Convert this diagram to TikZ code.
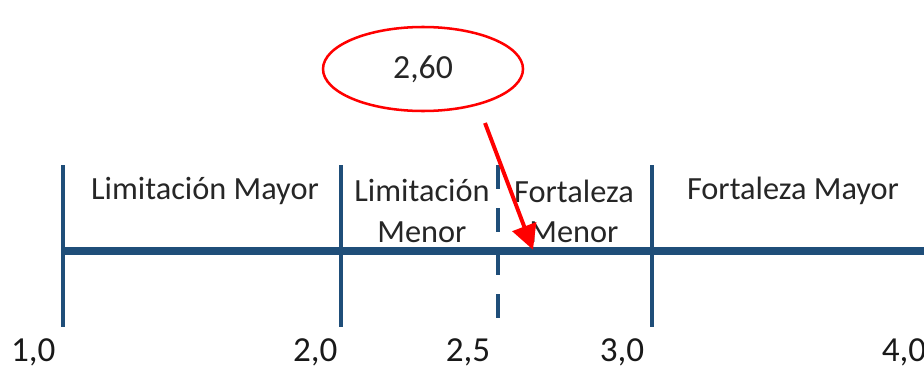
\documentclass[tikz,border=0pt]{standalone}
\usepackage{fontspec}
\setmainfont{Carlito}
\usepackage{tikz}
\usetikzlibrary{positioning, arrows.meta, shapes.geometric}

\definecolor{ejeazul}{RGB}{31,78,121}

\begin{document}
\begin{tikzpicture}[
  eje/.style={ejeazul, line width=5pt},
  marca/.style={ejeazul, line width=3.5pt},
  zona/.style={align=center, font=\fontsize{23}{28.5}\selectfont, text=black!85},
  num/.style={anchor=base, font=\fontsize{25}{28}\selectfont, text=black!90},
  flecha/.style={red, line width=2.8pt, -{Triangle[length=0.62cm, width=0.62cm]}},
]
  \useasboundingbox (0,0) rectangle (23.1,9.225);

  % Axis and ticks
  \coordinate (ejeA) at (1.575,2.95);
  \coordinate (ejeB) at (23.3,2.95);
  \draw[eje] (ejeA) -- (ejeB);
  \foreach \x/\n in {1.575/t1, 8.525/t2, 16.3/t3} {
    \coordinate (\n a) at (\x,5.1);
    \coordinate (\n b) at (\x,1.05);
    \draw[marca] (\n a) -- (\n b);
  }
  \coordinate (t25a) at (12.45,5.1);
  \coordinate (t25b) at (12.45,1.05);
  \draw[marca, dash pattern=on 0.6cm off 0.475cm] (t25a) -- (t25b);

  % Zone labels
  \node[zona] (limmay) at (5.125,4.45) {Limitación Mayor};
  \node[zona] (limmen) at (10.55,3.95) {Limitación\\Menor};
  \node[zona] (formen) at (14.35,3.95) {Fortaleza\\Menor};
  \node[zona] (formay) at (19.825,4.45) {Fortaleza Mayor};

  % Scale values
  \node[num] (n10) at (0.83,0.2) {1,0};
  \node[num] (n20) at (7.88,0.2) {2,0};
  \node[num] (n25) at (11.7,0.2) {2,5};
  \node[num] (n30) at (15.55,0.2) {3,0};
  \node[num] (n40) at (22.6,0.2) {4,0};

  % Score
  \node[ellipse, draw=red, line width=1.8pt, minimum width=5cm, minimum height=2.1cm,
        font=\fontsize{24}{28}\selectfont, text=black!85] (val) at (10.575,7.5) {2,60};
  \coordinate (ini) at (12.125,6.15);
  \coordinate (pto) at (13.325,2.98);
  \draw[flecha] (ini) -- (pto);
\end{tikzpicture}
\end{document}
